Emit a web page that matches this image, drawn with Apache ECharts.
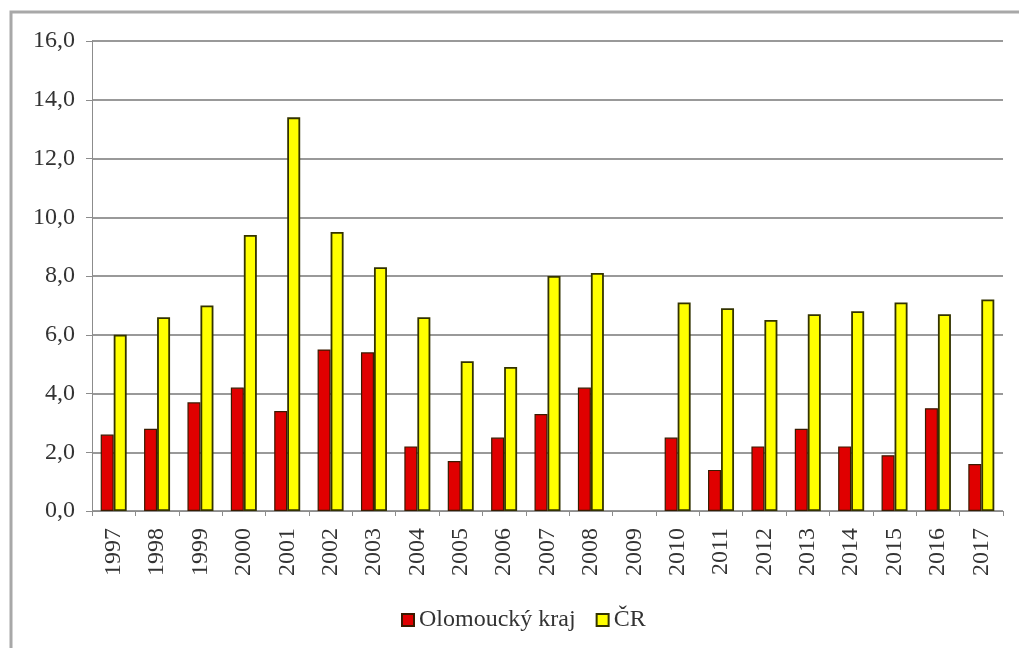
<!DOCTYPE html>
<html>
<head>
<meta charset="utf-8">
<script src="https://cdn.jsdelivr.net/npm/echarts@6/dist/echarts.min.js"></script>
<style>
  html, body { margin: 0; padding: 0; background: #fff; }
  #chart { width: 1019px; height: 648px; }
</style>
</head>
<body>
<div id="chart"></div>
<script>
// roky
const years = ['1997', '1998', '1999', '2000', '2001', '2002', '2003', '2004', '2005', '2006', '2007',
  '2008', '2009', '2010', '2011', '2012', '2013', '2014', '2015', '2016', '2017'];
// Olomoucký kraj (2009 chybí)
const olomouc = [2.6, 2.8, 3.7, 4.2, 3.4, 5.5, 5.4, 2.2, 1.7, 2.5, 3.3,
  4.2, null, 2.5, 1.4, 2.2, 2.8, 2.2, 1.9, 3.5, 1.6];
// ČR
const cr = [6.0, 6.6, 7.0, 9.4, 13.4, 9.5, 8.3, 6.6, 5.1, 4.9, 8.0,
  8.1, null, 7.1, 6.9, 6.5, 6.7, 6.8, 7.1, 6.7, 7.2];

const serif = '"Liberation Serif", "DejaVu Serif", serif';

const chart = echarts.init(document.getElementById('chart'));

chart.setOption({
  backgroundColor: '#fff',
  animation: false,
  textStyle: { fontFamily: serif },
  // rámeček okolo grafu
  graphic: [{
    type: 'rect',
    shape: { x: 11, y: 12, width: 1100, height: 700 },
    style: { fill: 'none', stroke: '#a8a8a8', lineWidth: 3 },
    silent: true
  }],
  grid: { left: 92, right: 16, top: 41, bottom: 137 },
  legend: {
    left: 396,
    top: 603,
    icon: 'rect',
    itemWidth: 12,
    itemHeight: 12,
    itemGap: 20,
    textStyle: { fontFamily: serif, fontSize: 24, color: '#333' },
    data: ['Olomoucký kraj', 'ČR']
  },
  xAxis: {
    type: 'category',
    data: years,
    axisLine: { lineStyle: { color: '#8c8c8c', width: 1 } },
    axisTick: { show: true, length: 5, lineStyle: { color: '#8c8c8c' } },
    axisLabel: {
      rotate: 90,
      interval: 0,
      margin: 17,
      fontFamily: serif,
      fontSize: 24,
      color: '#333'
    }
  },
  yAxis: {
    type: 'value',
    min: 0,
    max: 16,
    interval: 2,
    axisLine: { show: true, lineStyle: { color: '#8c8c8c', width: 1 } },
    axisTick: { show: true, length: 6, lineStyle: { color: '#8c8c8c' } },
    axisLabel: {
      margin: 17,
      fontFamily: serif,
      fontSize: 24,
      color: '#333',
      formatter: v => v.toFixed(1).replace('.', ',')
    },
    splitLine: { lineStyle: { color: '#777', width: 1.5 } }
  },
  series: [
    {
      name: 'Olomoucký kraj',
      type: 'bar',
      data: olomouc,
      barWidth: 13,
      barGap: '0%',
      itemStyle: { color: '#e00000', borderColor: '#3a1a00', borderWidth: 1.2 }
    },
    {
      name: 'ČR',
      type: 'bar',
      data: cr,
      barWidth: 13,
      itemStyle: { color: '#ffff00', borderColor: '#333300', borderWidth: 1.8 }
    }
  ]
});
</script>
</body>
</html>
